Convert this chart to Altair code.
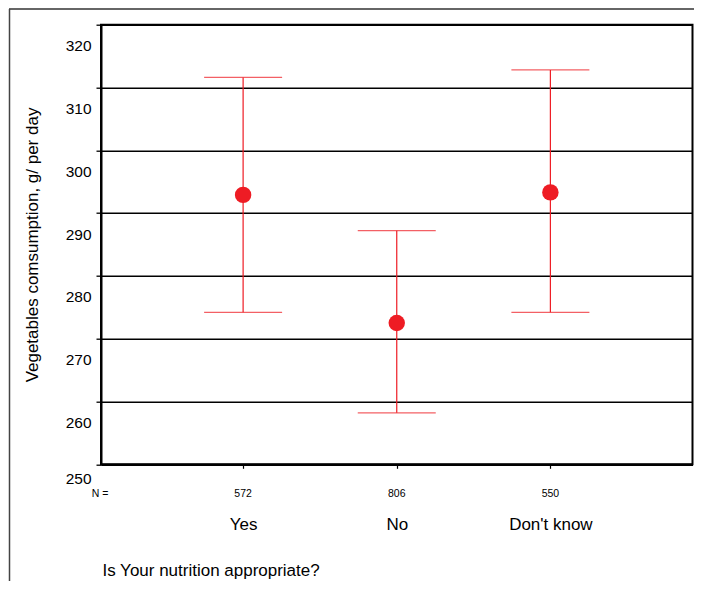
import altair as alt
import pandas as pd

# ---- data ----
categories = ["Yes", "No", "Don't know"]
n_values = ["572", "806", "550"]
means = [292.9, 272.5, 293.3]
lower = [274.2, 258.2, 274.2]
upper = [311.6, 287.2, 312.8]
y_ticks = [250, 260, 270, 280, 290, 300, 310, 320]

df = pd.DataFrame({"answer": categories, "n": n_values,
                   "mean": means, "lo": lower, "hi": upper})

W = 591.5
H = 439.6
RED = "#ee1c24"
FONT = "Liberation Sans"

x_enc = alt.X(
    "answer:N", sort=categories,
    scale=alt.Scale(type="point", padding=0.925),
    axis=alt.Axis(
        title="Is Your nutrition appropriate?",
        titleX=1, titleY=106.5, titleAlign="left", titleBaseline="middle",
        titleFontSize=17, titleFontWeight="normal", titleColor="#000", titleFont=FONT,
        labelFontSize=17, labelFont=FONT, labelColor="#000", labelPadding=48,
        labelAngle=0,
        domainColor="#000", domainWidth=2, tickColor="#000", tickSize=4, tickWidth=1.2,
        grid=False,
    ),
)

y_scale = alt.Scale(domain=[250, 320], nice=False, zero=False)

y_axis = alt.Axis(
    title="Vegetables comsumption, g/ per day",
    values=y_ticks,
    titleFontSize=17, titleFontWeight="normal", titleColor="#000", titleFont=FONT,
    titlePadding=24,
    labelFontSize=15.5, labelFont=FONT, labelColor="#000", labelPadding=5,
    labelOffset={"condition": {"test": "datum.value === 250", "value": 14}, "value": 21},
    domainColor="#000", domainWidth=2, tickColor="#000", tickSize=5, tickWidth=1.3,
    grid=True, gridColor="#000", gridWidth=1.4, gridOpacity=1,
)

base = alt.Chart(df)

bars = base.mark_rule(color=RED, strokeWidth=1.2).encode(
    x=x_enc,
    y=alt.Y("lo:Q", scale=y_scale, axis=y_axis),
    y2="hi:Q",
)

cap_hi = base.mark_tick(color=RED, size=78, thickness=1.2).encode(
    x=alt.X("answer:N", sort=categories), y=alt.Y("hi:Q"))
cap_lo = base.mark_tick(color=RED, size=78, thickness=1.2).encode(
    x=alt.X("answer:N", sort=categories), y=alt.Y("lo:Q"))

pts = base.mark_point(filled=True, shape="circle", size=270, color=RED, opacity=1).encode(
    x=alt.X("answer:N", sort=categories), y=alt.Y("mean:Q"))

n_text = base.mark_text(fontSize=10.5, font=FONT, color="#000", baseline="middle").encode(
    x=alt.X("answer:N", sort=categories),
    y=alt.value(H + 29.5),
    text="n:N",
)

n_label = alt.Chart(pd.DataFrame({"t": ["N ="]})).mark_text(
    fontSize=10.5, font=FONT, color="#000", baseline="middle", align="center"
).encode(x=alt.value(-1), y=alt.value(H + 29.5), text="t:N")

frame_top = alt.Chart(pd.DataFrame({"a": [0]})).mark_rule(color="#333", strokeWidth=1.5).encode(
    x=alt.value(-92), x2=alt.value(720), y=alt.value(-15.7))
frame_left = alt.Chart(pd.DataFrame({"a": [0]})).mark_rule(color="#444", strokeWidth=1.5).encode(
    x=alt.value(-91.5), y=alt.value(-15.7), y2=alt.value(620))

chart = alt.layer(bars, cap_hi, cap_lo, pts, n_text, n_label, frame_top, frame_left).properties(
    width=W, height=H,
    autosize=alt.AutoSizeParams(type="none"),
    padding={"left": 93, "top": 16.7, "right": 1.5, "bottom": 116.5},
    background="white",
).configure_view(
    stroke="#000", strokeWidth=2, fill="white"
)

chart.save("out.html", embed_options={"renderer": "svg", "actions": False})
